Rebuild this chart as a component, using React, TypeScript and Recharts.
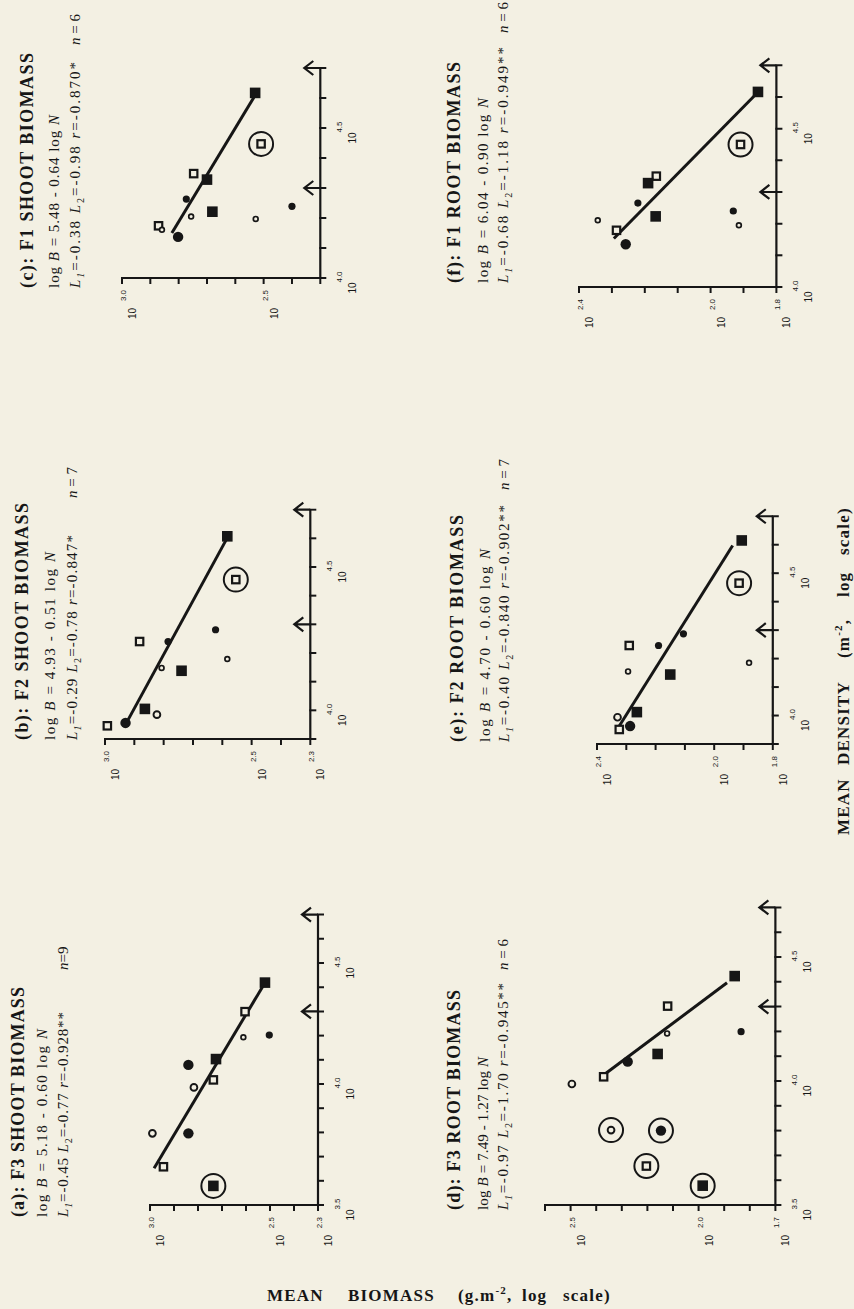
import React from 'react';
import { ScatterChart, Scatter, XAxis, YAxis, ReferenceLine } from 'recharts';

const INK = '#161616';
const PAPER = '#f3f0e3';
const SERIF = '"Liberation Serif", "Times New Roman", serif';
const SANS = '"Liberation Sans", Arial, sans-serif';

// ---------- data: log10 values ----------
// (a) F3 shoot biomass
const densityA = [4.419, 4.299, 4.193, 4.202, 4.103, 4.079, 4.017, 3.986, 3.796, 3.796, 3.658, 3.579];
const biomassA = [2.521, 2.604, 2.611, 2.503, 2.725, 2.840, 2.736, 2.817, 2.840, 2.990, 2.944, 2.736];
const symbolsA = ['fs', 'os', 'oc', 'fc', 'fs', 'FC', 'os', 'OC', 'FC', 'OC', 'os', 'fs@'];
const fitDensityA = [3.652, 4.430];
const fitBiomassA = [2.983, 2.514];

// (b) F2 shoot biomass
const densityB = [4.607, 4.456, 4.281, 4.179, 4.240, 4.240, 4.148, 4.138, 4.005, 3.985, 3.956, 3.946];
const biomassB = [2.583, 2.554, 2.623, 2.583, 2.882, 2.785, 2.807, 2.739, 2.864, 2.823, 2.930, 2.992];
const symbolsB = ['fs', 'os@', 'fc', 'oc', 'os', 'fc', 'oc', 'fs', 'fs', 'OC', 'FC', 'os'];
const fitDensityB = [3.958, 4.598];
const fitBiomassB = [2.926, 2.585];

// (c) F1 shoot biomass
const densityC = [4.617, 4.447, 4.348, 4.328, 4.263, 4.205, 4.221, 4.197, 4.239, 4.174, 4.161, 4.137];
const biomassC = [2.530, 2.509, 2.747, 2.700, 2.773, 2.756, 2.681, 2.528, 2.400, 2.871, 2.859, 2.802];
const symbolsC = ['fs', 'os@', 'os', 'fs', 'fc', 'oc', 'fs', 'oc', 'fc', 'os', 'oc', 'FC'];
const fitDensityC = [4.150, 4.611];
const fitBiomassC = [2.824, 2.529];

// (d) F3 root biomass
const densityD = [4.423, 4.302, 4.199, 4.192, 4.109, 4.078, 4.017, 3.988, 3.802, 3.800, 3.657, 3.578];
const biomassD = [1.859, 2.121, 1.834, 2.123, 2.160, 2.277, 2.371, 2.495, 2.342, 2.147, 2.204, 1.984];
const symbolsD = ['fs', 'os', 'fc', 'oc', 'fs', 'FC', 'os', 'OC', 'OC@', 'FC@', 'os@', 'fs@'];
const fitDensityD = [4.024, 4.396];
const fitBiomassD = [2.371, 1.889];

// (e) F2 root biomass
const densityE = [4.615, 4.465, 4.287, 4.185, 4.246, 4.246, 4.155, 4.144, 4.012, 3.994, 3.963, 3.951];
const biomassE = [1.906, 1.915, 2.105, 1.881, 2.190, 2.290, 2.294, 2.150, 2.264, 2.330, 2.287, 2.324];
const symbolsE = ['fs', 'os@', 'fc', 'oc', 'fc', 'os', 'oc', 'fs', 'fs', 'OC', 'FC', 'os'];
const fitDensityE = [3.963, 4.597];
const fitBiomassE = [2.324, 1.937];

// (f) F1 root biomass
const densityF = [4.616, 4.450, 4.350, 4.328, 4.265, 4.223, 4.240, 4.195, 4.211, 4.179, 4.135];
const biomassF = [1.856, 1.909, 2.165, 2.190, 2.221, 2.167, 1.931, 1.914, 2.343, 2.286, 2.258];
const symbolsF = ['fs', 'os@', 'os', 'fs', 'fc', 'fs', 'fc', 'oc', 'oc', 'os', 'FC'];
const fitDensityF = [4.153, 4.608];
const fitBiomassF = [2.294, 1.863];

// arrows on every density axis
const arrowDensities = [4.3, 4.7];

// ticks and tick labels (exponents of 10)
const densityTicks35 = [3.5, 3.6, 3.7, 3.8, 3.9, 4.0, 4.1, 4.2, 4.3, 4.4, 4.5, 4.6, 4.7];
const densityTicks39 = [3.9, 4.0, 4.1, 4.2, 4.3, 4.4, 4.5, 4.6, 4.7];
const densityTicks40 = [4.0, 4.1, 4.2, 4.3, 4.4, 4.5, 4.6, 4.7];
const shootTicks = [2.3, 2.4, 2.5, 2.6, 2.7, 2.8, 2.9, 3.0];
const rootTicksD = [1.7, 1.8, 1.9, 2.0, 2.1, 2.2, 2.3, 2.4, 2.5, 2.6];
const rootTicksEF = [1.8, 1.9, 2.0, 2.1, 2.2, 2.3, 2.4];
const densityLabels35 = ['3.5', '4.0', '4.5'];
const densityLabels40 = ['4.0', '4.5'];
const shootLabels = ['2.3', '2.5', '3.0'];
const shootLabelsC = ['2.5', '3.0'];
const rootLabelsD = ['1.7', '2.0', '2.5'];
const rootLabelsEF = ['1.8', '2.0', '2.4'];

// texts
const panelTitles = ['(a): F3 SHOOT BIOMASS', '(b): F2 SHOOT BIOMASS', '(c): F1 SHOOT BIOMASS',
  '(d): F3 ROOT BIOMASS', '(e): F2 ROOT BIOMASS', '(f): F1 ROOT BIOMASS'];
const intercepts = ['5.18', '4.93', '5.48', '7.49', '4.70', '6.04'];
const slopes = ['0.60', '0.51', '0.64', '1.27', '0.60', '0.90'];
const L1Values = ['-0.45', '-0.29', '-0.38', '-0.97', '-0.40', '-0.68'];
const L2Values = ['-0.77', '-0.78', '-0.98', '-1.70', '-0.840', '-1.18'];
const rValues = ['-0.928**', '-0.847*', '-0.870*', '-0.945**', '-0.902**', '-0.949**'];
const nValues = ['9', '7', '6', '6', '7', '6'];
const nSeparators = ['=', ' = ', ' = ', ' = ', ' = ', ' = '];

// ---------- layout (unrotated frame: 1309 wide x 854 tall) ----------
const panels = [
  { density: densityA, biomass: biomassA, symbols: symbolsA, fitD: fitDensityA, fitB: fitBiomassA,
    xDomain: [3.5, 4.7], yDomain: [2.3, 3.0], xTicks: densityTicks35, yTicks: shootTicks,
    xLabels: densityLabels35, yLabels: shootLabels, originU: 104, originV: 318, pxX: 242, pxY: 240 },
  { density: densityB, biomass: biomassB, symbols: symbolsB, fitD: fitDensityB, fitB: fitBiomassB,
    xDomain: [3.9, 4.7], yDomain: [2.3, 3.0], xTicks: densityTicks39, yTicks: shootTicks,
    xLabels: densityLabels40, yLabels: shootLabels, originU: 569.7, originV: 310.7, pxX: 286.7, pxY: 293.3 },
  { density: densityC, biomass: biomassC, symbols: symbolsC, fitD: fitDensityC, fitB: fitBiomassC,
    xDomain: [4.0, 4.7], yDomain: [2.3, 3.0], xTicks: densityTicks40, yTicks: shootTicks,
    xLabels: densityLabels40, yLabels: shootLabelsC, originU: 1030.7, originV: 320, pxX: 300, pxY: 283.3 },
  { density: densityD, biomass: biomassD, symbols: symbolsD, fitD: fitDensityD, fitB: fitBiomassD,
    xDomain: [3.5, 4.7], yDomain: [1.7, 2.6], xTicks: densityTicks35, yTicks: rootTicksD,
    xLabels: densityLabels35, yLabels: rootLabelsD, originU: 104, originV: 775, pxX: 248, pxY: 256 },
  { density: densityE, biomass: biomassE, symbols: symbolsE, fitD: fitDensityE, fitB: fitBiomassE,
    xDomain: [3.9, 4.7], yDomain: [1.8, 2.4], xTicks: densityTicks39, yTicks: rootTicksEF,
    xLabels: densityLabels40, yLabels: rootLabelsEF, originU: 565, originV: 772.3, pxX: 284.7, pxY: 293 },
  { density: densityF, biomass: biomassF, symbols: symbolsF, fitD: fitDensityF, fitB: fitBiomassF,
    xDomain: [4.0, 4.7], yDomain: [1.8, 2.4], xTicks: densityTicks40, yTicks: rootTicksEF,
    xLabels: densityLabels40, yLabels: rootLabelsEF, originU: 1022.3, originV: 776, pxX: 316.7, pxY: 329 },
];

const textLayout = [
  { u: 92, v1: 24, v2: 47, v3: 68, len1: 230, len2: 188, len3: 205, nU: 339 },
  { u: 569, v1: 28, v2: 55, v3: 77, len1: 237, len2: 188, len3: 205, nU: 811 },
  { u: 1021, v1: 33, v2: 59, v3: 80, len1: 235, len2: 173, len3: 226, nU: 1264 },
  { u: 99, v1: 460, v2: 488, v3: 508, len1: 220, len2: 153, len3: 227, nU: 339 },
  { u: 567, v1: 463, v2: 490, v3: 509, len1: 227, len2: 193, len3: 237, nU: 819 },
  { u: 1026, v1: 460, v2: 488, v3: 508, len1: 221, len2: 185, len3: 236, nU: 1276 },
];

const TICK = 6;

const findLabel = (labels: string[], value: number) =>
  labels.find((l) => Math.abs(parseFloat(l) - value) < 1e-6);

function XTick(props: any) {
  const { x, y, payload, labels } = props;
  const lab = findLabel(labels, payload.value);
  if (!lab) return <g />;
  return (
    <g fontFamily={SANS}>
      <text x={x + 1} y={y + 16} fontSize={8} textAnchor="middle" fill={INK}>{lab}</text>
      <text x={x - 10} y={y + 30} fontSize={10} textAnchor="middle" fill={INK}>10</text>
    </g>
  );
}

function YTick(props: any) {
  const { x, y, payload, labels } = props;
  const lab = findLabel(labels, payload.value);
  if (!lab) return <g />;
  return (
    <g fontFamily={SANS}>
      <text x={x - 6} y={y + 4} fontSize={8} textAnchor="end" fill={INK}>{lab}</text>
      <text x={x - 24} y={y + 14} fontSize={10} textAnchor="end" fill={INK}>10</text>
    </g>
  );
}

function renderSymbol(props: any) {
  const { cx, cy, payload } = props;
  if (cx == null || cy == null) return <g />;
  const code: string = payload.m;
  const ring = code.endsWith('@');
  const k = ring ? code.slice(0, -1) : code;
  let mark: any = null;
  if (k === 'fs') mark = <rect x={cx - 5.3} y={cy - 5.3} width={10.6} height={10.6} fill={INK} />;
  else if (k === 'os') mark = <rect x={cx - 3.7} y={cy - 3.7} width={7.4} height={7.4} fill={PAPER} stroke={INK} strokeWidth={2.2} />;
  else if (k === 'oc') mark = <circle cx={cx} cy={cy} r={2.4} fill={PAPER} stroke={INK} strokeWidth={1.7} />;
  else if (k === 'fc') mark = <circle cx={cx} cy={cy} r={3.6} fill={INK} />;
  else if (k === 'OC') mark = <circle cx={cx} cy={cy} r={3.4} fill={PAPER} stroke={INK} strokeWidth={1.9} />;
  else if (k === 'FC') mark = <circle cx={cx} cy={cy} r={5.2} fill={INK} />;
  return (
    <g>
      {ring && <circle cx={cx} cy={cy} r={12} fill="none" stroke={INK} strokeWidth={2} />}
      {mark}
    </g>
  );
}

function renderArrow(props: any) {
  const { cx, cy } = props;
  if (cx == null || cy == null) return <g />;
  return (
    <path
      d={`M${cx},${cy} L${cx},${cy - 16} M${cx - 7},${cy - 7} L${cx},${cy - 16} L${cx + 7},${cy - 7}`}
      fill="none" stroke={INK} strokeWidth={2.2} strokeLinejoin="miter"
    />
  );
}

function renderXTickMark(props: any) {
  const { cx, cy } = props;
  if (cx == null || cy == null) return <g />;
  return <path d={`M${cx},${cy - 1} L${cx},${cy + TICK}`} fill="none" stroke={INK} strokeWidth={2} />;
}

function renderYTickMark(props: any) {
  const { cx, cy } = props;
  if (cx == null || cy == null) return <g />;
  return <path d={`M${cx + 1},${cy} L${cx - TICK},${cy}`} fill="none" stroke={INK} strokeWidth={2} />;
}

const noShape = () => <g />;

const ML = 70, MT = 30, MR = 30, MB = 50;

function Panel({ p }: { p: any }) {
  const plotW = (p.xDomain[1] - p.xDomain[0]) * p.pxX;
  const plotH = (p.yDomain[1] - p.yDomain[0]) * p.pxY;
  const w = ML + plotW + MR;
  const h = MT + plotH + MB;
  const [x0, x1] = p.xDomain;
  const [y0, y1] = p.yDomain;
  const data = p.density.map((d: number, i: number) => ({ d, b: p.biomass[i], m: p.symbols[i] }));
  const arrows = arrowDensities.map((d) => ({ d, b: y0 }));
  const frame = [{ d: x1, b: y0 }, { d: x0, b: y0 }, { d: x0, b: y1 }];
  const xMarks = p.xTicks.map((d: number) => ({ d, b: y0 }));
  const yMarks = p.yTicks.map((b: number) => ({ d: x0, b }));
  return (
    <div style={{ position: 'absolute', left: p.originU - ML, top: p.originV - plotH - MT }}>
      <ScatterChart width={w} height={h} margin={{ top: MT, right: MR, bottom: 0, left: 0 }}>
        <XAxis type="number" dataKey="d" domain={p.xDomain} ticks={p.xTicks} interval={0} height={MB}
          tickSize={TICK} tickMargin={0} axisLine={false} tickLine={false}
          tick={(t: any) => <XTick {...t} labels={p.xLabels} />} />
        <YAxis type="number" dataKey="b" domain={p.yDomain} ticks={p.yTicks} interval={0} width={ML}
          tickSize={TICK} tickMargin={0} axisLine={false} tickLine={false}
          tick={(t: any) => <YTick {...t} labels={p.yLabels} />} />
        <Scatter data={frame} shape={noShape} line={{ stroke: INK, strokeWidth: 2.2 }} lineType="joint"
          isAnimationActive={false} />
        <Scatter data={xMarks} shape={renderXTickMark} isAnimationActive={false} />
        <Scatter data={yMarks} shape={renderYTickMark} isAnimationActive={false} />
        <ReferenceLine segment={[{ x: p.fitD[0], y: p.fitB[0] }, { x: p.fitD[1], y: p.fitB[1] }]}
          stroke={INK} strokeWidth={3} ifOverflow="visible" />
        <Scatter data={data} shape={renderSymbol} isAnimationActive={false} />
        <Scatter data={arrows} shape={renderArrow} isAnimationActive={false} />
      </ScatterChart>
    </div>
  );
}

function PanelText({ i }: { i: number }) {
  const t = textLayout[i];
  return (
    <g fill={INK}>
      <text x={t.u} y={t.v1} fontFamily={SERIF} fontWeight="bold" fontSize={18}
        textLength={t.len1} lengthAdjust="spacing">{panelTitles[i]}</text>
      <text x={t.u} y={t.v2} fontFamily={SERIF} fontSize={15} textLength={t.len2} lengthAdjust="spacing">
        log <tspan fontStyle="italic">B</tspan> = {intercepts[i]} - {slopes[i]} log <tspan fontStyle="italic">N</tspan>
      </text>
      <text x={t.u} y={t.v3} fontFamily={SERIF} fontSize={15} textLength={t.len3} lengthAdjust="spacing">
        <tspan fontStyle="italic">L</tspan>
        <tspan fontStyle="italic" fontSize={10} dy={4}>1</tspan>
        <tspan dy={-4}>{'=' + L1Values[i] + ' '}</tspan>
        <tspan fontStyle="italic">L</tspan>
        <tspan fontSize={10} dy={4}>2</tspan>
        <tspan dy={-4}>{'=' + L2Values[i] + ' '}</tspan>
        <tspan fontStyle="italic">r</tspan>
        <tspan>{'=' + rValues[i]}</tspan>
      </text>
      <text x={t.nU} y={t.v3} fontFamily={SERIF} fontSize={15} style={{ whiteSpace: 'pre' }}>
        <tspan fontStyle="italic">n</tspan>{nSeparators[i] + nValues[i]}
      </text>
    </g>
  );
}

export default function App() {
  return (
    <div style={{ position: 'absolute', left: 0, top: 0, width: 854, height: 1309, background: PAPER, overflow: 'hidden' }}>
      <div style={{
        position: 'absolute', left: 0, top: 0, width: 1309, height: 854,
        transformOrigin: '0 0', transform: 'translate(0px, 1309px) rotate(-90deg)',
      }}>
        <svg width={1309} height={854} style={{ position: 'absolute', left: 0, top: 0, overflow: 'visible' }}>
          {panels.map((_, i) => <PanelText key={i} i={i} />)}
          <text y={849} fontFamily={SERIF} fontWeight="bold" fontSize={17} fill={INK} letterSpacing={1.2}>
            <tspan x={474}>MEAN</tspan>
            <tspan x={544}>DENSITY</tspan>
            <tspan x={651}>(m</tspan>
            <tspan fontSize={11} dy={-7}>-2</tspan>
            <tspan dy={7}>,</tspan>
            <tspan x={712}>log</tspan>
            <tspan x={754}>scale)</tspan>
          </text>
        </svg>
        {panels.map((p, i) => <Panel key={i} p={p} />)}
      </div>
      <div style={{ position: 'absolute', left: 0, top: 1280, width: 854, height: 29 }}>
        <svg width={854} height={29}>
          <text y={21} fontFamily={SERIF} fontWeight="bold" fontSize={17} fill={INK} letterSpacing={1.2}>
            <tspan x={267}>MEAN</tspan>
            <tspan x={348}>BIOMASS</tspan>
            <tspan x={458}>(g.m</tspan>
            <tspan fontSize={11} dy={-7}>-2</tspan>
            <tspan dy={7}>,</tspan>
            <tspan x={522}>log</tspan>
            <tspan x={563}>scale)</tspan>
          </text>
        </svg>
      </div>
    </div>
  );
}
